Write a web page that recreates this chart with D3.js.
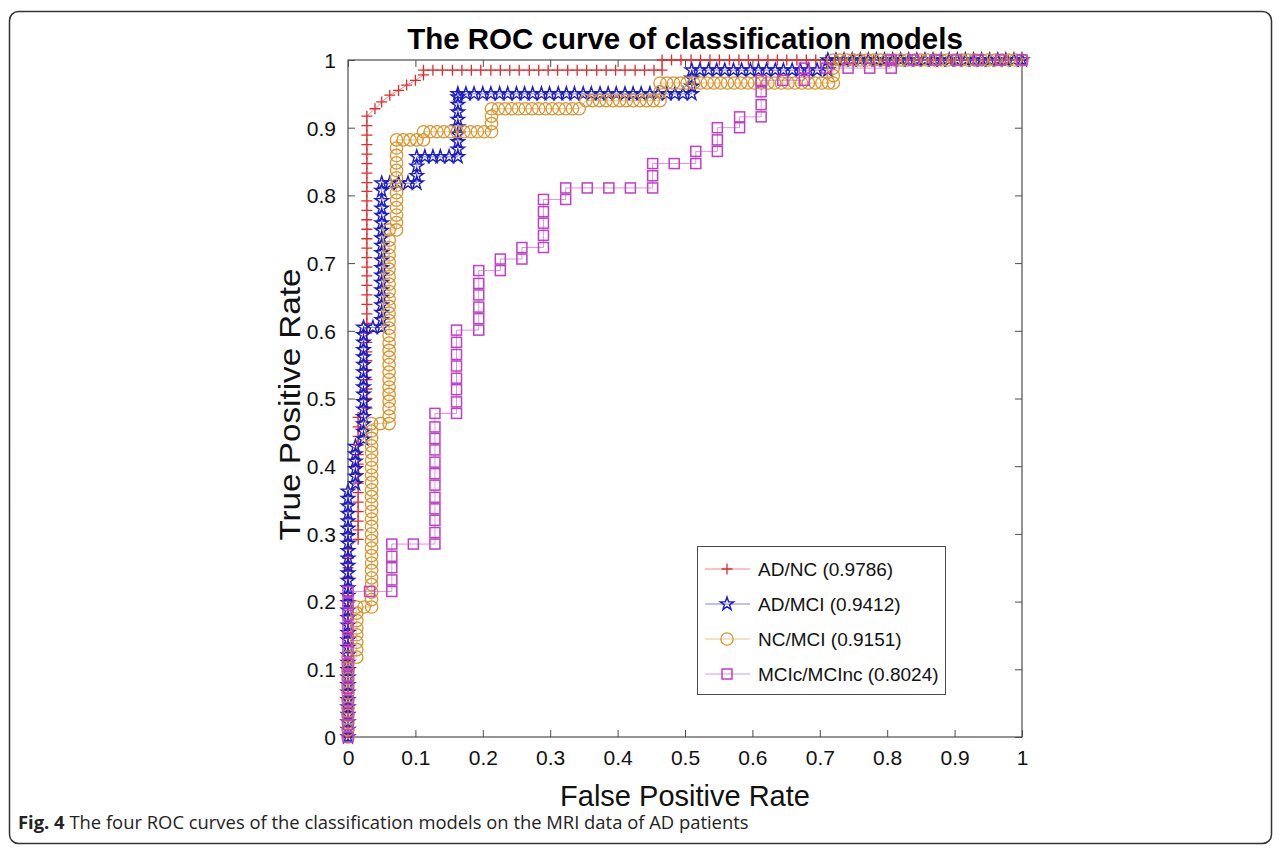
<!DOCTYPE html>
<html><head><meta charset="utf-8">
<script src="https://cdn.jsdelivr.net/npm/d3@7"></script>
<style>body{margin:0;background:#fff}svg{display:block}</style>
</head><body>
<svg id="chart" width="1281" height="850"></svg>
<script>
// ---------- data ----------
const xTicks = [0,0.1,0.2,0.3,0.4,0.5,0.6,0.7,0.8,0.9,1];
const yTicks = [0,0.1,0.2,0.3,0.4,0.5,0.6,0.7,0.8,0.9,1];
const seriesNames = ["AD/NC (0.9786)","AD/MCI (0.9412)","NC/MCI (0.9151)","MCIc/MCInc (0.8024)"];

const adncFpr = [0,0,0,0,0,0,0,0,0,0,0,0,0,0,0,0,0,0,0,0,0,
 0.015,0.015,0.015,0.015,0.015,0.015,0.015,0.015,0.015,0.015,0.015,0.015,0.015,0.015,
 0.028,0.028,0.028,0.028,0.028,0.028,0.028,0.028,0.028,0.028,0.028,0.028,0.028,0.028,0.028,0.028,0.028,0.028,0.028,0.028,0.028,0.028,0.028,0.028,0.028,0.028,0.028,0.028,0.028,0.028,0.028,0.028,
 0.040,0.050,0.062,0.075,0.087,0.100,0.112,0.112,
 0.126,0.140,0.155,0.169,0.183,0.197,0.212,0.226,0.240,0.254,0.269,0.283,0.297,0.311,0.326,0.340,0.354,0.369,0.383,0.397,0.411,0.426,0.440,0.454,0.466,0.466,
 0.480,0.494,0.509,0.523,0.537,0.551,0.566,0.580,0.594,0.609,0.623,0.637,0.651,0.666,0.680,0.694,0.709,0.723,0.737,0.751,0.766,0.780,0.794,0.809,0.823,0.837,0.851,0.866,0.880,0.894,0.909,0.923,0.937,0.951,0.966,0.980,1.0];
const adncTpr = [0,0.014,0.028,0.042,0.056,0.069,0.083,0.097,0.111,0.125,0.139,0.153,0.167,0.181,0.194,0.208,0.222,0.236,0.250,0.264,0.278,
 0.292,0.306,0.319,0.333,0.347,0.361,0.375,0.389,0.403,0.417,0.431,0.444,0.458,0.472,
 0.486,0.500,0.514,0.528,0.542,0.556,0.569,0.583,0.597,0.611,0.625,0.639,0.653,0.667,0.681,0.694,0.708,0.722,0.736,0.750,0.764,0.778,0.792,0.806,0.819,0.833,0.847,0.861,0.875,0.889,0.903,0.917,
 0.928,0.938,0.948,0.955,0.963,0.970,0.978,0.985,
 0.985,0.985,0.985,0.985,0.985,0.985,0.985,0.985,0.985,0.985,0.985,0.985,0.985,0.985,0.985,0.985,0.985,0.985,0.985,0.985,0.985,0.985,0.985,0.985,0.985,1,
 1,1,1,1,1,1,1,1,1,1,1,1,1,1,1,1,1,1,1,1,1,1,1,1,1,1,1,1,1,1,1,1,1,1,1,1,1];

const admciFpr = [0,0,0,0,0,0,0,0,0,0,0,0,0,0,0,0,0,0,0,0,0,0,0,0,0,0,0,0,0,0,0,0,0,0,
 0.011,0.011,0.011,0.011,0.011,0.011,
 0.023,0.023,0.023,0.023,0.023,0.023,0.023,0.023,0.023,0.023,0.023,0.023,0.023,0.023,0.023,0.023,
 0.037,
 0.050,0.050,0.050,0.050,0.050,0.050,0.050,0.050,0.050,0.050,0.050,0.050,0.050,0.050,0.050,0.050,0.050,0.050,0.050,0.050,
 0.062,0.075,0.089,0.102,
 0.102,0.102,0.102,
 0.114,0.126,0.137,0.150,0.163,
 0.163,0.163,0.163,0.163,0.163,0.163,0.163,0.163,
 0.163,0.175,0.187,0.200,0.212,0.225,0.237,0.250,0.262,0.274,0.287,0.299,0.312,0.324,0.336,0.349,0.361,0.374,0.386,0.398,0.411,0.423,0.435,0.448,0.460,0.473,0.485,0.497,0.510,
 0.510,0.510,0.510,
 0.522,0.535,0.547,0.559,0.572,0.584,0.597,0.609,0.621,0.634,0.646,0.659,0.671,0.683,0.696,0.712,0.712,
 0.724,0.736,0.748,0.760,0.772,0.784,0.796,0.808,0.820,0.832,0.844,0.856,0.868,0.880,0.892,0.904,0.916,0.928,0.940,0.952,0.964,0.976,0.988,1.0];
const admciTpr = [0,0.011,0.022,0.033,0.044,0.055,0.066,0.077,0.088,0.099,0.110,0.121,0.132,0.143,0.154,0.165,0.176,0.187,0.198,0.209,0.220,0.231,0.242,0.253,0.264,0.275,0.286,0.297,0.308,0.319,0.330,0.341,0.352,0.363,
 0.374,0.385,0.396,0.407,0.418,0.429,
 0.440,0.451,0.462,0.473,0.484,0.495,0.506,0.517,0.528,0.539,0.550,0.561,0.572,0.583,0.594,0.605,
 0.605,
 0.605,0.616,0.627,0.638,0.649,0.660,0.671,0.682,0.693,0.704,0.715,0.726,0.737,0.748,0.759,0.770,0.781,0.792,0.807,0.818,
 0.818,0.818,0.818,0.818,
 0.829,0.843,0.857,
 0.857,0.857,0.857,0.857,0.857,
 0.868,0.879,0.890,0.901,0.912,0.923,0.934,0.945,
 0.950,0.950,0.950,0.950,0.950,0.950,0.950,0.950,0.950,0.950,0.950,0.950,0.950,0.950,0.950,0.950,0.950,0.950,0.950,0.950,0.950,0.950,0.950,0.950,0.950,0.950,0.950,0.950,0.950,
 0.961,0.973,0.985,
 0.985,0.985,0.985,0.985,0.985,0.985,0.985,0.985,0.985,0.985,0.985,0.985,0.985,0.985,0.985,0.985,1,
 1,1,1,1,1,1,1,1,1,1,1,1,1,1,1,1,1,1,1,1,1,1,1,1];

const ncmciFpr = [0,0,0,0,0,0,0,0,0,0,0,0,
 0.013,0.013,0.013,0.013,0.013,0.013,0.013,0.013,
 0.024,
 0.035,0.035,0.035,0.035,0.035,0.035,0.035,0.035,0.035,0.035,0.035,0.035,0.035,0.035,0.035,0.035,0.035,0.035,0.035,0.035,0.035,0.035,0.035,0.035,0.035,0.035,
 0.048,
 0.061,0.061,0.061,0.061,0.061,0.061,0.061,0.061,0.061,0.061,0.061,0.061,0.061,0.061,0.061,0.061,0.061,0.061,0.061,0.061,0.061,0.061,0.061,0.061,0.061,0.061,0.061,
 0.072,0.072,0.072,0.072,0.072,0.072,0.072,0.072,0.072,0.072,0.072,0.072,0.072,
 0.082,0.092,0.102,0.112,0.112,
 0.122,0.132,0.142,0.152,0.162,0.172,0.182,0.192,0.202,0.213,
 0.213,0.213,0.213,
 0.223,0.233,0.243,0.253,0.263,0.273,0.283,0.293,0.303,0.313,0.323,0.333,0.343,
 0.353,0.363,0.373,0.383,0.393,0.403,0.413,0.423,0.433,0.443,0.453,0.463,
 0.463,0.463,
 0.473,0.483,0.493,0.503,0.513,0.523,0.533,0.543,0.553,0.563,0.573,0.583,0.593,0.603,0.613,0.623,0.633,0.643,0.653,0.663,0.673,0.683,0.693,0.703,0.713,0.720,
 0.720,0.720,0.720,
 0.730,0.740,0.750,0.760,0.770,0.780,0.790,0.800,0.810,0.820,0.830,0.840,0.850,0.860,0.870,0.880,0.890,0.900,0.910,0.920,0.930,0.940,0.950,0.960,0.970,0.980,0.990,1.0];
const ncmciTpr = [0,0.011,0.022,0.032,0.043,0.054,0.065,0.075,0.086,0.097,0.108,0.118,
 0.118,0.129,0.140,0.151,0.161,0.172,0.183,0.192,
 0.192,
 0.192,0.203,0.214,0.225,0.235,0.246,0.257,0.268,0.279,0.290,0.300,0.311,0.322,0.333,0.344,0.355,0.365,0.376,0.387,0.398,0.409,0.420,0.430,0.441,0.452,0.463,
 0.463,
 0.463,0.474,0.485,0.496,0.506,0.517,0.528,0.539,0.550,0.561,0.571,0.582,0.593,0.604,0.615,0.626,0.636,0.647,0.658,0.669,0.680,0.691,0.701,0.712,0.723,0.734,0.749,
 0.749,0.760,0.771,0.782,0.793,0.804,0.815,0.826,0.837,0.848,0.859,0.870,0.882,
 0.882,0.882,0.882,0.882,0.894,
 0.894,0.894,0.894,0.894,0.894,0.894,0.894,0.894,0.894,0.894,
 0.906,0.917,0.928,
 0.928,0.928,0.928,0.928,0.928,0.928,0.928,0.928,0.928,0.928,0.928,0.928,0.928,
 0.940,0.940,0.940,0.940,0.940,0.940,0.940,0.940,0.940,0.940,0.940,0.940,
 0.953,0.966,
 0.966,0.966,0.966,0.966,0.966,0.966,0.966,0.966,0.966,0.966,0.966,0.966,0.966,0.966,0.966,0.966,0.966,0.966,0.966,0.966,0.966,0.966,0.966,0.966,0.966,0.966,
 0.977,0.988,1,
 1,1,1,1,1,1,1,1,1,1,1,1,1,1,1,1,1,1,1,1,1,1,1,1,1,1,1,1];

const mciFpr = [0,0,0,0,0,0,0,0,0,0,0,0,0,
 0.032,0.065,0.065,0.065,0.065,0.065,0.097,
 0.129,0.129,0.129,0.129,0.129,0.129,0.129,0.129,0.129,0.129,0.129,0.129,
 0.161,0.161,0.161,0.161,0.161,0.161,0.161,0.161,
 0.194,0.194,0.194,0.194,0.194,0.194,
 0.226,0.226,0.258,0.258,
 0.290,0.290,0.290,0.290,0.290,
 0.323,0.323,0.355,0.387,0.419,0.452,0.452,0.452,
 0.484,0.516,0.516,0.548,0.548,0.548,0.581,0.581,
 0.613,0.613,0.613,0.613,0.645,0.677,0.677,
 0.710,0.742,0.774,0.806,0.806,0.839,0.871,0.903,0.935,0.968,1.0];
const mciTpr = [0,0.018,0.036,0.054,0.072,0.090,0.108,0.126,0.144,0.162,0.180,0.198,0.215,
 0.215,0.215,0.232,0.250,0.267,0.285,0.285,
 0.285,0.302,0.320,0.337,0.354,0.372,0.389,0.406,0.424,0.441,0.458,0.478,
 0.478,0.495,0.513,0.530,0.548,0.565,0.583,0.601,
 0.601,0.618,0.635,0.653,0.670,0.689,
 0.689,0.706,0.706,0.723,
 0.723,0.741,0.759,0.776,0.794,
 0.794,0.811,0.811,0.811,0.811,0.811,0.829,0.847,
 0.847,0.847,0.865,0.865,0.882,0.900,0.900,0.916,
 0.916,0.934,0.953,0.970,0.970,0.970,0.988,
 0.988,0.988,0.988,0.988,1,1,1,1,1,1,1];

const seriesColors = ["#e32b2b","#1c1cc8","#d8962e","#c03ec8"];
const seriesMarkers = ["plus","star","circle","square"];

// ---------- layout ----------
const svg = d3.select("#chart");
const M = {left:348, right:1022, top:60, bottom:737};
const x = d3.scaleLinear().domain([0,1]).range([M.left, M.right]);
const y = d3.scaleLinear().domain([0,1]).range([M.bottom, M.top]);
const axisColor = "#4d4d4d";
const font = "'Liberation Sans', Arial, sans-serif";

// outer frame
svg.append("rect").attr("x",9.5).attr("y",11.5).attr("width",1262).attr("height",832)
  .attr("rx",9).attr("fill","none").attr("stroke","#333").attr("stroke-width",1.5);

// title
svg.append("text").attr("x",(M.left+M.right)/2).attr("y",49).attr("text-anchor","middle")
  .attr("font-family",font).attr("font-weight","bold").attr("font-size",29.5).attr("fill","#000")
  .text("The ROC curve of classification models");

// axes (box with inward ticks)
const gAxes = svg.append("g");
const axB = d3.axisBottom(x).tickValues(xTicks).tickSize(-7).tickPadding(13).tickFormat(d3.format("~g"));
const axT = d3.axisTop(x).tickValues(xTicks).tickSize(-7).tickFormat("");
const axL = d3.axisLeft(y).tickValues(yTicks).tickSize(-7).tickPadding(12).tickFormat(d3.format("~g"));
const axR = d3.axisRight(y).tickValues(yTicks).tickSize(-7).tickFormat("");
const gB = gAxes.append("g").attr("transform",`translate(0,${M.bottom})`).call(axB);
const gT = gAxes.append("g").attr("transform",`translate(0,${M.top})`).call(axT);
const gL = gAxes.append("g").attr("transform",`translate(${M.left},0)`).call(axL);
const gR = gAxes.append("g").attr("transform",`translate(${M.right},0)`).call(axR);
[gB,gT,gL,gR].forEach(g=>{
  g.selectAll(".tick line").attr("stroke",axisColor);
  g.selectAll("text").attr("font-family",font).attr("font-size",21).attr("fill","#111");
});
gAxes.selectAll(".domain").remove();
gAxes.append("rect").attr("x",M.left).attr("y",M.top).attr("width",M.right-M.left).attr("height",M.bottom-M.top)
  .attr("fill","none").attr("stroke",axisColor).attr("stroke-width",1.2);
gL.selectAll(".tick text").attr("dy","0.35em");

// axis labels
svg.append("text").attr("x",(M.left+M.right)/2).attr("y",806).attr("text-anchor","middle")
  .attr("font-family",font).attr("font-size",29).attr("fill","#111").text("False Positive Rate");
svg.append("text").attr("transform",`translate(300,${(M.top+M.bottom)/2 + 6}) rotate(-90)`).attr("text-anchor","middle")
  .attr("font-family",font).attr("font-size",29).attr("textLength",272).attr("lengthAdjust","spacingAndGlyphs")
  .attr("fill","#111").text("True Positive Rate");

// markers
const starPath = d3.symbol(d3.symbolStar, 55)();
function drawMarker(g, type, color){
  if(type==="plus"){
    g.append("path").attr("d","M-5.5,0H5.5M0,-5.5V5.5").attr("stroke",color).attr("stroke-width",1.3).attr("fill","none");
  } else if(type==="star"){
    g.append("path").attr("d",starPath).attr("stroke",color).attr("stroke-width",1.4).attr("fill","none");
  } else if(type==="circle"){
    g.append("circle").attr("r",6.2).attr("stroke",color).attr("stroke-width",1.3).attr("fill","none");
  } else {
    g.append("rect").attr("x",-5).attr("y",-5).attr("width",10).attr("height",10).attr("stroke",color).attr("stroke-width",1.5).attr("fill","none");
  }
}

const allSeries = [
  {fpr:adncFpr, tpr:adncTpr},
  {fpr:admciFpr, tpr:admciTpr},
  {fpr:ncmciFpr, tpr:ncmciTpr},
  {fpr:mciFpr, tpr:mciTpr}
];
const line = d3.line().x(d=>x(d[0])).y(d=>y(d[1]));
allSeries.forEach((s,i)=>{
  const pts = s.fpr.map((f,j)=>[f, s.tpr[j]]);
  const g = svg.append("g");
  g.append("path").attr("d",line(pts)).attr("fill","none").attr("stroke",seriesColors[i]).attr("stroke-opacity",0.55).attr("stroke-width",1);
  g.selectAll("g.m").data(pts).enter().append("g").attr("class","m")
    .attr("transform",d=>`translate(${x(d[0])},${y(d[1])})`)
    .each(function(){ drawMarker(d3.select(this), seriesMarkers[i], seriesColors[i]); });
});

// legend
const lg = svg.append("g");
lg.append("rect").attr("x",697.5).attr("y",546.5).attr("width",248).attr("height",148).attr("fill","#fff").attr("stroke",axisColor).attr("stroke-width",1);
seriesNames.forEach((name,i)=>{
  const yy = 569 + i*35;
  lg.append("line").attr("x1",705).attr("x2",750).attr("y1",yy).attr("y2",yy).attr("stroke",seriesColors[i]).attr("stroke-opacity",0.55).attr("stroke-width",1.2);
  drawMarker(lg.append("g").attr("transform",`translate(727,${yy})`), seriesMarkers[i], seriesColors[i]);
  lg.append("text").attr("x",758).attr("y",yy).attr("dy","0.35em").attr("font-family",font).attr("font-size",19).attr("fill","#111").text(name);
});

// caption
const cap = svg.append("text").attr("x",18).attr("y",829).attr("font-family","'Open Sans',sans-serif").attr("font-size",18.4).attr("fill","#222");
cap.append("tspan").attr("font-weight","bold").text("Fig. 4");
cap.append("tspan").text(" The four ROC curves of the classification models on the MRI data of AD patients");
</script>
</body></html>
